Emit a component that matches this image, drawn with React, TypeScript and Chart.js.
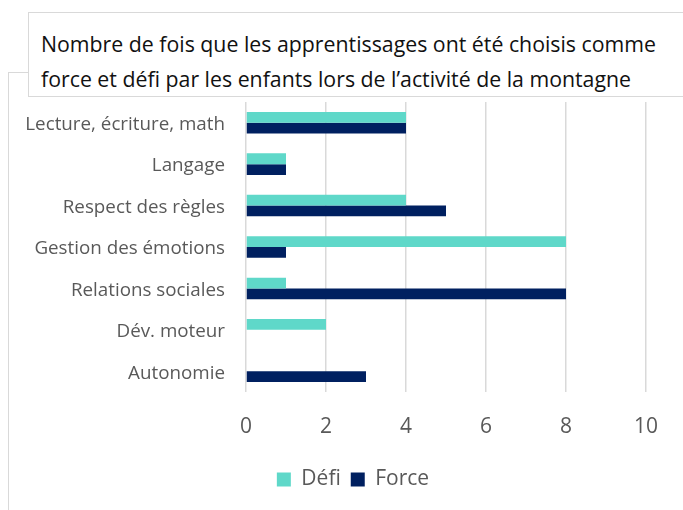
import React, { useEffect, useRef } from "react";
import { Chart, registerables } from "chart.js";

Chart.register(...registerables);

const categories = [
  "Lecture, écriture, math",
  "Langage",
  "Respect des règles",
  "Gestion des émotions",
  "Relations sociales",
  "Dév. moteur",
  "Autonomie",
];
const defiValues = [4, 1, 4, 8, 1, 2, 0];
const forceValues = [4, 1, 5, 1, 8, 0, 3];
const xTicks = [0, 2, 4, 6, 8, 10];
const titleLines = [
  "Nombre de fois que les apprentissages ont été choisis comme",
  "force et défi par les enfants lors de l’activité de la montagne",
];

const FONT = "'Open Sans', Lato, sans-serif";
const CW = 706;

export default function App() {
  const ref = useRef<HTMLCanvasElement | null>(null);

  useEffect(() => {
    if (!ref.current) return;
    const chart = new Chart(ref.current, {
      type: "bar",
      data: {
        labels: categories,
        datasets: [
          {
            label: "Défi",
            data: defiValues,
            backgroundColor: "#5FD8C9",
            categoryPercentage: 0.52,
            barPercentage: 1,
          },
          {
            label: "Force",
            data: forceValues,
            backgroundColor: "#002060",
            categoryPercentage: 0.52,
            barPercentage: 1,
          },
        ],
      },
      options: {
        indexAxis: "y",
        animation: false,
        responsive: false,
        maintainAspectRatio: false,
        layout: { padding: { top: 102, left: 0, right: 0, bottom: 10 } },
        scales: {
          x: {
            min: 0,
            max: 10,
            afterBuildTicks: (s: any) => {
              s.ticks = xTicks.map((v) => ({ value: v }));
            },
            afterFit: (s: any) => {
              s.height = 67;
            },
            grid: { color: "#d9d9d9", lineWidth: 1.5, drawTicks: false },
            border: { display: false },
            ticks: {
              color: "#595959",
              font: { family: FONT, size: 21 },
              padding: 22,
            },
          },
          y: {
            afterFit: (s: any) => {
              s.width = 246;
            },
            grid: { display: false, drawTicks: false },
            border: { display: false },
            ticks: {
              color: "#595959",
              font: { family: FONT, size: 18.8 },
              padding: 21,
              labelOffset: 2,
            },
          },
          y2: {
            type: "linear",
            axis: "y",
            position: "right",
            afterFit: (s: any) => {
              s.width = 60;
            },
            grid: { display: false, drawTicks: false },
            border: { display: false },
            ticks: { display: false },
          },
        },
        plugins: {
          title: { display: false },
          tooltip: { enabled: false },
          legend: {
            position: "bottom",
            labels: {
              boxWidth: 14,
              boxHeight: 14,
              padding: 10,
              color: "#595959",
              font: { family: FONT, size: 21 },
            },
          },
        },
      },
    });
    return () => chart.destroy();
  }, []);

  return (
    <div
      style={{
        position: "absolute",
        left: 0,
        top: 0,
        width: 683,
        height: 510,
        background: "#fff",
        overflow: "hidden",
      }}
    >
      <div
        style={{
          position: "absolute",
          left: 8,
          top: 72,
          width: 20,
          height: 0,
          borderTop: "1.5px solid #d9d9d9",
        }}
      />
      <div
        style={{
          position: "absolute",
          left: 8,
          top: 72,
          width: 0,
          height: 440,
          borderLeft: "1.5px solid #d9d9d9",
        }}
      />
      <canvas
        ref={ref}
        width={CW}
        height={510}
        style={{ position: "absolute", left: 0, top: 0, width: CW, height: 510 }}
      />
      <div
        style={{
          position: "absolute",
          left: 28,
          top: 12,
          width: 700,
          height: 85,
          border: "1.5px solid #d9d9d9",
          background: "#fff",
          boxSizing: "border-box",
        }}
      />
      <div
        style={{
          position: "absolute",
          left: 41,
          top: 26,
          fontFamily: FONT,
          fontSize: 21.3,
          lineHeight: "35px",
          color: "#111",
          whiteSpace: "nowrap",
        }}
      >
        {titleLines.map((t, i) => (
          <div key={i}>{t}</div>
        ))}
      </div>
    </div>
  );
}
